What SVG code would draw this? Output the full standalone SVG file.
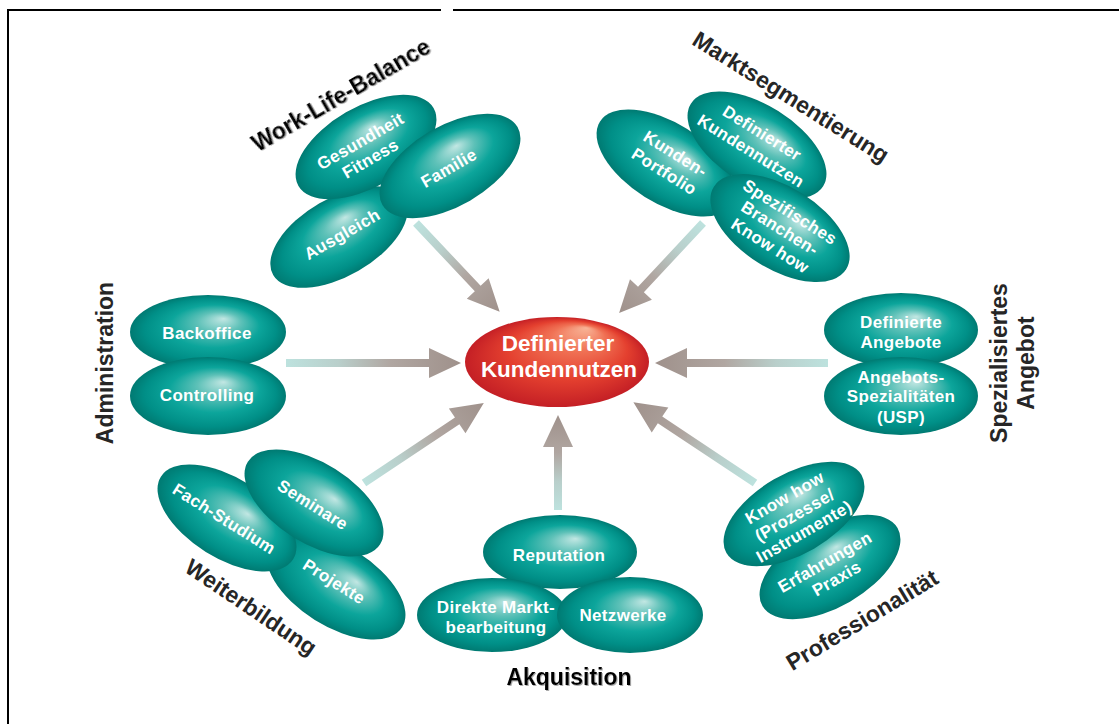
<svg xmlns="http://www.w3.org/2000/svg" width="1119" height="724" viewBox="0 0 1119 724">
  <defs>
    <radialGradient id="teal" cx="0.5" cy="0.5" r="0.5" fx="0.6" fy="0.32">
      <stop offset="0" stop-color="#c2e7e3"/>
      <stop offset="0.28" stop-color="#5ec1b8"/>
      <stop offset="0.58" stop-color="#0ca59b"/>
      <stop offset="0.84" stop-color="#008f87"/>
      <stop offset="1" stop-color="#007a72"/>
    </radialGradient>
    <radialGradient id="red" cx="0.5" cy="0.5" r="0.5" fx="0.66" fy="0.12">
      <stop offset="0" stop-color="#f8b396"/>
      <stop offset="0.3" stop-color="#f07154"/>
      <stop offset="0.65" stop-color="#e4402f"/>
      <stop offset="1" stop-color="#c41f25"/>
    </radialGradient>
    <linearGradient id="arrowGrad" x1="0" y1="0" x2="1" y2="0">
      <stop offset="0" stop-color="#bde2de"/>
      <stop offset="0.3" stop-color="#b9cfcb"/>
      <stop offset="0.6" stop-color="#b0a6a1"/>
      <stop offset="1" stop-color="#9f918b"/>
    </linearGradient>
    <filter id="shadow" x="-5%" y="-20%" width="110%" height="140%">
      <feDropShadow dx="1" dy="1" stdDeviation="0.7" flood-color="#888" flood-opacity="0.7"/>
    </filter>
  </defs>
  <style>
    .leaf { fill: url(#teal); }
    .arrow { fill: url(#arrowGrad); }
    .in { font-family: "Liberation Sans", Arial, sans-serif; font-weight: bold; font-size: 17px; letter-spacing: 0.35px; fill: #ffffff; text-anchor: middle; }
    .cat { font-family: "Liberation Sans", Arial, sans-serif; font-weight: bold; font-size: 23px; fill: #262626; text-anchor: middle; }
    .dark { fill: #000000; filter: url(#shadow); }
    .core { font-family: "Liberation Sans", Arial, sans-serif; font-weight: bold; font-size: 22.5px; fill: #ffffff; text-anchor: middle; }
  </style>

  <rect width="1119" height="724" fill="#ffffff"/>
  <!-- frame -->
  <path d="M8,724 V10 H441 M453,10 H1119" fill="none" stroke="#000" stroke-width="2"/>

  <!-- connectors -->
  <g id="connectors">
    <path class="arrow" transform="translate(416,223) rotate(46.7)" d="M0,-4H90V-15L122,0L90,15V4H0Z"/>
    <path class="arrow" transform="translate(703,223) rotate(133)" d="M0,-4H91V-15L123,0L91,15V4H0Z"/>
    <path class="arrow" transform="translate(286,363)" d="M0,-4H143V-15L175,0L143,15V4H0Z"/>
    <path class="arrow" transform="translate(828,363) rotate(180)" d="M0,-4H141V-15L173,0L141,15V4H0Z"/>
    <path class="arrow" transform="translate(364,483) rotate(-33.7)" d="M0,-4H112V-15L144,0L112,15V4H0Z"/>
    <path class="arrow" transform="translate(558,510) rotate(-90)" d="M0,-4H63V-15L95,0L63,15V4H0Z"/>
    <path class="arrow" transform="translate(755,483) rotate(213.6)" d="M0,-4H114V-15L146,0L114,15V4H0Z"/>
  </g>

  <!-- centre -->
  <g id="kundennutzen">
    <ellipse cx="557" cy="362" rx="92" ry="45" fill="url(#red)"/>
    <text class="core" x="558" y="351">Definierter</text>
    <text class="core" x="559" y="377">Kundennutzen</text>
  </g>

  <!-- Work-Life-Balance -->
  <g id="work-life-balance">
    <text class="cat dark" transform="translate(341,95) rotate(-30)" y="8" font-size="22">Work-Life-Balance</text>
    <g transform="translate(339,237) rotate(-30)">
      <ellipse class="leaf" rx="76" ry="39"/>
      <text class="in" x="4" y="5">Ausgleich</text>
    </g>
    <g transform="translate(366,147) rotate(-30)">
      <ellipse class="leaf" rx="78" ry="40"/>
      <text class="in" x="-2" y="-2">Gesundheit</text>
      <text class="in" x="-2" y="18">Fitness</text>
    </g>
    <g transform="translate(450,166) rotate(-30)">
      <ellipse class="leaf" rx="78" ry="40"/>
      <text class="in" x="-2" y="7">Familie</text>
    </g>
  </g>

  <!-- Marktsegmentierung -->
  <g id="marktsegmentierung">
    <text class="cat" transform="translate(791,97) rotate(32)" y="8">Marktsegmentierung</text>
    <g transform="translate(666,163) rotate(32)">
      <ellipse class="leaf" rx="78" ry="40"/>
      <text class="in" x="3" y="-7">Kunden-</text>
      <text class="in" x="3" y="14">Portfolio</text>
    </g>
    <g transform="translate(757,145) rotate(32)">
      <ellipse class="leaf" rx="78" ry="40"/>
      <text class="in" x="-2" y="-7">Definierter</text>
      <text class="in" x="-2" y="14">Kundennutzen</text>
    </g>
    <g transform="translate(780,228) rotate(32)">
      <ellipse class="leaf" rx="78" ry="41"/>
      <text class="in" x="0" y="-13">Spezifisches</text>
      <text class="in" x="0" y="6">Branchen-</text>
      <text class="in" x="1" y="26">Know how</text>
    </g>
  </g>

  <!-- Administration -->
  <g id="administration">
    <text class="cat" transform="translate(105,363) rotate(-90)" y="8">Administration</text>
    <ellipse class="leaf" cx="208" cy="332" rx="78" ry="37"/>
    <text class="in" x="207" y="339">Backoffice</text>
    <ellipse class="leaf" cx="208" cy="396" rx="78" ry="39"/>
    <text class="in" x="207" y="401">Controlling</text>
  </g>

  <!-- Spezialisiertes Angebot -->
  <g id="spezialisiertes-angebot">
    <g transform="translate(1012,363) rotate(-90)">
      <text class="cat" y="-5">Spezialisiertes</text>
      <text class="cat" y="22">Angebot</text>
    </g>
    <ellipse class="leaf" cx="901" cy="330" rx="77" ry="37"/>
    <text class="in" x="901" y="328">Definierte</text>
    <text class="in" x="901" y="348">Angebote</text>
    <ellipse class="leaf" cx="901" cy="396" rx="77" ry="39"/>
    <text class="in" x="901" y="383">Angebots-</text>
    <text class="in" x="901" y="402">Spezialitäten</text>
    <text class="in" x="901" y="423">(USP)</text>
  </g>

  <!-- Weiterbildung -->
  <g id="weiterbildung">
    <text class="cat" transform="translate(251,607) rotate(34)" y="8">Weiterbildung</text>
    <g transform="translate(336,586) rotate(32)">
      <ellipse class="leaf" rx="78" ry="40"/>
      <text class="in" x="-4" y="3">Projekte</text>
    </g>
    <g transform="translate(227,518) rotate(32)">
      <ellipse class="leaf" rx="78" ry="40"/>
      <text class="in" x="-2" y="8">Fach-Studium</text>
    </g>
    <g transform="translate(314,503) rotate(32)">
      <ellipse class="leaf" rx="78" ry="40"/>
      <text class="in" x="0" y="8">Seminare</text>
    </g>
  </g>

  <!-- Akquisition -->
  <g id="akquisition">
    <text class="cat dark" x="569" y="685">Akquisition</text>
    <ellipse class="leaf" cx="560" cy="552" rx="77" ry="37"/>
    <text class="in" x="559" y="561">Reputation</text>
    <ellipse class="leaf" cx="492" cy="615" rx="75" ry="37"/>
    <text class="in" x="496" y="613">Direkte Markt-</text>
    <text class="in" x="496" y="633">bearbeitung</text>
    <ellipse class="leaf" cx="630" cy="615" rx="73" ry="38"/>
    <text class="in" x="623" y="621">Netzwerke</text>
  </g>

  <!-- Professionalität -->
  <g id="professionalitaet">
    <text class="cat" transform="translate(862,620) rotate(-31)" y="8">Professionalität</text>
    <g transform="translate(830,567) rotate(-30)">
      <ellipse class="leaf" rx="78" ry="40"/>
      <text class="in" x="-2" y="-1">Erfahrungen</text>
      <text class="in" x="0" y="19">Praxis</text>
    </g>
    <g transform="translate(794,514) rotate(-30)">
      <ellipse class="leaf" rx="78" ry="40"/>
      <text class="in" x="0" y="-13">Know how</text>
      <text class="in" x="0" y="7">(Prozesse/</text>
      <text class="in" x="0" y="26">Instrumente)</text>
    </g>
  </g>
</svg>
